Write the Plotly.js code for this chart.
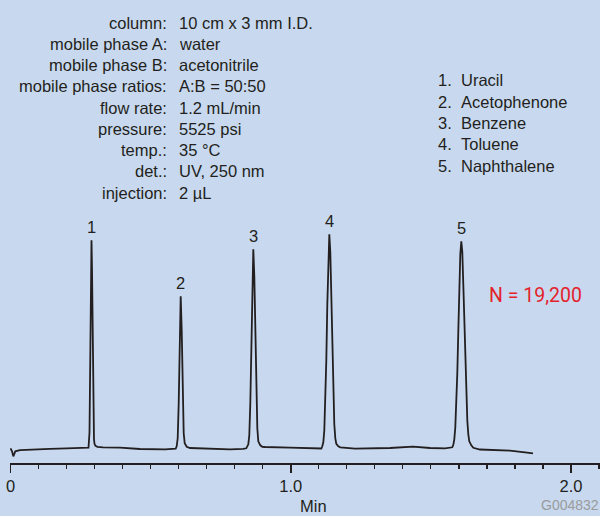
<!DOCTYPE html>
<html>
<head>
<meta charset="utf-8">
<script src="https://cdn.plot.ly/plotly-3.0.1.min.js"></script>
<style>
  html, body { margin: 0; padding: 0; background: #c8d9ef; }
  #chart { width: 600px; height: 516px; }
</style>
</head>
<body>
<div id="chart"></div>
<script>
// ---- Data ----
// retention time (min)
const time = [
  0.0000, 0.0054, 0.0100, 0.0171, 0.0339, 0.0700, 0.1409, 0.2000, 0.2658,
  0.2783, 0.2819, 0.2836, 0.2854, 0.2872, 0.2890, 0.2908, 0.2926, 0.2944, 0.2961, 0.2979, 0.2997, 0.3033, 0.3104,
  0.3300, 0.3907, 0.4621, 0.5513, 0.5790,
  0.5895, 0.5930, 0.5966, 0.6002, 0.6037, 0.6073, 0.6109, 0.6144, 0.6180, 0.6216, 0.6287,
  0.6405, 0.7119, 0.7832, 0.8300,
  0.8414, 0.8486, 0.8521, 0.8557, 0.8593, 0.8628, 0.8664, 0.8700, 0.8735, 0.8771, 0.8807, 0.8842, 0.8914, 0.8985,
  0.9081, 0.9973, 1.0687,
  1.1091, 1.1126, 1.1162, 1.1198, 1.1233, 1.1269, 1.1305, 1.1340, 1.1376, 1.1412, 1.1447, 1.1483, 1.1519, 1.1554, 1.1590, 1.1626, 1.1697, 1.1768,
  1.2293, 1.2828, 1.3542, 1.4362, 1.4969, 1.5504,
  1.5765, 1.5801, 1.5836, 1.5872, 1.5908, 1.5943, 1.5979, 1.6015, 1.6050, 1.6086, 1.6122, 1.6157, 1.6193, 1.6229, 1.6264, 1.6300, 1.6336, 1.6371, 1.6443, 1.6514,
  1.6753, 1.7110, 1.7824, 1.8359, 1.8644
];
// detector signal (arbitrary units, baseline ~ 0)
const signal = [
  0, -3, -8, -3, -1.8, -1.2, -0.5, 0, 0.3,
  0.6, 16, 50, 110, 177, 208, 180, 118, 60, 24, 9, 4.5, 2.5, 1.5,
  1.0, 0.6, -0.7, -1, -0.7,
  -0.3, 2, 10, 45, 115, 152, 118, 52, 15, 5, 1.5,
  0.3, -0.3, -1, -0.5,
  0, 4, 13, 45, 105, 170, 199, 172, 110, 52, 20, 7, 3, 1.5,
  1.3, 0.6, -0.3,
  -0.2, 2, 6, 18, 44, 88, 144, 194, 214, 196, 150, 96, 52, 24, 10, 4.5, 2, 1,
  -0.3, -0.3, 0.3, 1.6, 0.3, 0,
  1, 3.5, 9, 21, 42, 75, 117, 160, 194, 207, 196, 164, 124, 84, 50, 28, 14, 7, 3, 0.5,
  -1.2, -1.7, -2.4, -4, -5
];
const peakNumbers = ['1', '2', '3', '4', '5'];
const peakTimes = [0.2890, 0.6073, 0.8664, 1.1376, 1.6086];
const compounds = ['Uracil', 'Acetophenone', 'Benzene', 'Toluene', 'Naphthalene'];
const conditionLabels = ['column:', 'mobile phase A:', 'mobile phase B:', 'mobile phase ratios:',
  'flow rate:', 'pressure:', 'temp.:', 'det.:', 'injection:'];
const conditionValues = ['10 cm x 3 mm I.D.', 'water', 'acetonitrile', 'A:B = 50:50',
  '1.2 mL/min', '5525 psi', '35 °C', 'UV, 250 nm', '2 µL'];
const plateCount = 'N = 19,200';
const tickVals = [0, 1, 2];
const tickText = ['0', '1.0', '2.0'];
const xTitle = 'Min';
const figureCode = 'G004832';

// ---- Layout helpers ----
const W = 600, H = 516;
const M = { l: 10, r: 0, t: 200, b: 53 };
const plotW = W - M.l - M.r, plotH = H - M.t - M.b;
const px = x => (x - M.l) / plotW;
const py = y => (H - M.b - y) / plotH;
const ink = '#231f20';
const FONT = 'Liberation Sans, Arial, sans-serif';
const FS = 16.5;

const annotations = [];
// conditions block
conditionLabels.forEach((lab, i) => {
  const yc = 22.5 + i * 21.25;
  annotations.push({ xref: 'paper', yref: 'paper', x: px(169), y: py(yc), xanchor: 'right', yanchor: 'middle',
    text: lab, showarrow: false, font: { family: FONT, size: FS, color: ink } });
  annotations.push({ xref: 'paper', yref: 'paper', x: px(176.5), y: py(yc), xanchor: 'left', yanchor: 'middle',
    text: conditionValues[i], showarrow: false, font: { family: FONT, size: FS, color: ink } });
});
// compound list
compounds.forEach((c, i) => {
  const yc = 80.5 + i * 21.3;
  annotations.push({ xref: 'paper', yref: 'paper', x: px(435.5), y: py(yc), xanchor: 'left', yanchor: 'middle',
    text: peakNumbers[i] + '.', showarrow: false, font: { family: FONT, size: FS, color: ink } });
  annotations.push({ xref: 'paper', yref: 'paper', x: px(459), y: py(yc), xanchor: 'left', yanchor: 'middle',
    text: c, showarrow: false, font: { family: FONT, size: FS, color: ink } });
});
// peak numbers above apex
peakTimes.forEach((t, i) => {
  const idx = time.indexOf(t);
  annotations.push({ x: t, y: signal[idx], xref: 'x', yref: 'y', xanchor: 'center', yanchor: 'bottom',
    yshift: 2, text: peakNumbers[i], showarrow: false, font: { family: FONT, size: FS, color: ink } });
});
// plate count
annotations.push({ xref: 'paper', yref: 'paper', x: px(535), y: py(295), xanchor: 'center', yanchor: 'middle',
  text: plateCount, showarrow: false, font: { family: 'Roboto, Noto Sans, sans-serif', size: 19.5, color: '#e3232c' } });
// axis title
annotations.push({ xref: 'paper', yref: 'paper', x: px(313.7), y: py(506), xanchor: 'center', yanchor: 'middle',
  text: xTitle, showarrow: false, font: { family: FONT, size: FS, color: ink } });
// figure code
annotations.push({ xref: 'paper', yref: 'paper', x: px(601), y: py(505), xanchor: 'right', yanchor: 'middle',
  text: figureCode, showarrow: false, font: { family: FONT, size: 14, color: '#9b9b9b' } });

const trace = {
  x: time, y: signal, type: 'scatter', mode: 'lines',
  line: { color: ink, width: 1.8 }, hoverinfo: 'skip'
};

const layout = {
  width: W, height: H,
  margin: M,
  paper_bgcolor: '#c8d9ef', plot_bgcolor: '#c8d9ef',
  showlegend: false,
  xaxis: {
    range: [-0.0018, 2.1035],
    showgrid: false, zeroline: false,
    showline: true, linecolor: ink, linewidth: 1.5,
    ticks: 'outside', ticklen: 8, tickwidth: 1.5, tickcolor: ink,
    tickmode: 'array', tickvals: tickVals, ticktext: tickText,
    tickfont: { family: FONT, size: FS, color: ink },
    minor: { tickmode: 'linear', tick0: 0, dtick: 0.1, ticks: 'outside', ticklen: 4, tickwidth: 1.2, tickcolor: ink, showgrid: false },
    fixedrange: true
  },
  yaxis: {
    range: [-14.7, 248.3],
    visible: false, showgrid: false, zeroline: false, fixedrange: true
  },
  annotations: annotations
};

Plotly.newPlot('chart', [trace], layout, { staticPlot: true, displayModeBar: false });
</script>
</body>
</html>
